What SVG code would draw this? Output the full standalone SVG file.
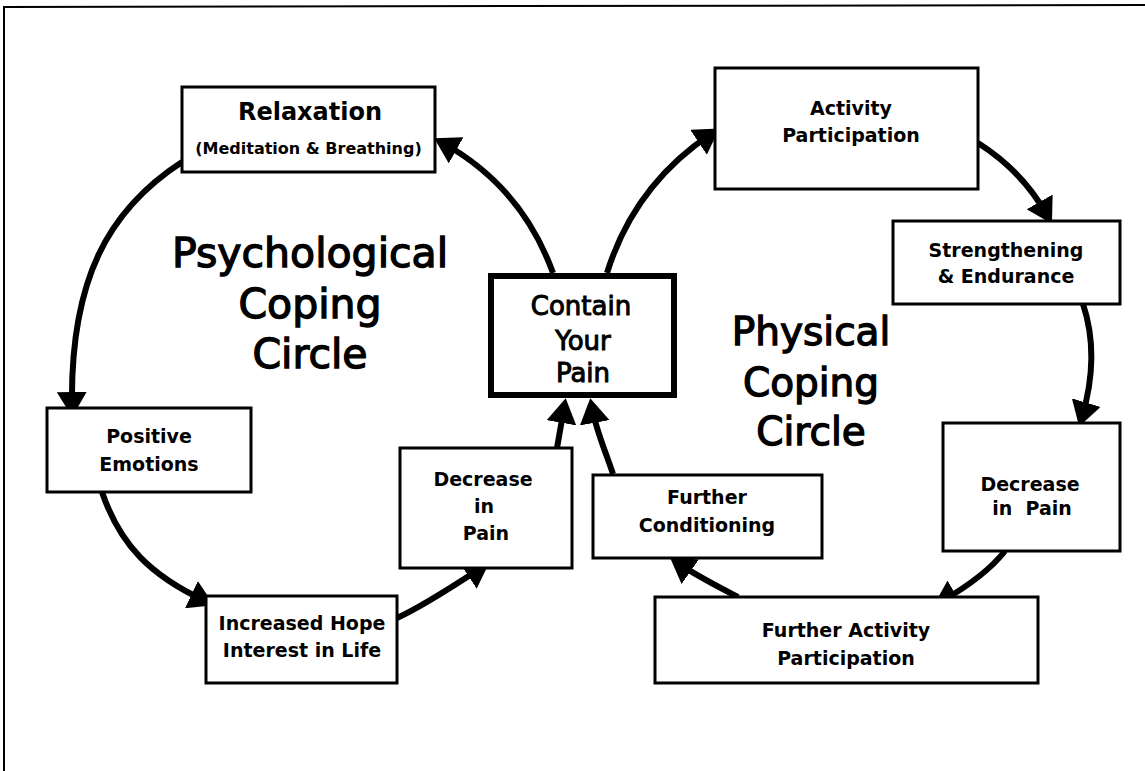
<svg xmlns="http://www.w3.org/2000/svg" width="1145" height="771" viewBox="0 0 1145 771">
<style>
.box{fill:#fff;stroke:#000;stroke-width:3}
.main{fill:#fff;stroke:#000;stroke-width:6}
.lbl{font-family:"DejaVu Sans",sans-serif;font-weight:bold;font-size:19px;text-anchor:middle;fill:#000}
.big{font-family:"DejaVu Sans",sans-serif;font-size:26px;text-anchor:middle;fill:#000;stroke:#000;stroke-width:1}
.title{font-family:"DejaVu Sans",sans-serif;font-size:41px;text-anchor:middle;fill:#000;stroke:#000;stroke-width:1.3}
.conn path{fill:none;stroke:#000;stroke-width:6;marker-end:url(#ah)}
</style>
<defs>
<marker id="ah" viewBox="0 0 25 30" markerWidth="25" markerHeight="30" refX="15" refY="15" orient="auto" markerUnits="userSpaceOnUse">
<path d="M0,0 L25,15 L0,30 z" fill="#000"/>
</marker>
</defs>
<rect width="1145" height="771" fill="#fff"/>
<path d="M4,771 L4,7 L1145,5" fill="none" stroke="#000" stroke-width="2"/>

<g id="titles">
<text class="title" x="310" y="267">Psychological</text>
<text class="title" x="310" y="318">Coping</text>
<text class="title" x="310" y="368">Circle</text>
<text class="title" x="811" y="345" style="font-size:39px">Physical</text>
<text class="title" x="811" y="396" style="font-size:39px">Coping</text>
<text class="title" x="811" y="445" style="font-size:39px">Circle</text>
</g>

<g class="conn" id="connectors">
<path d="M553,273 C532,215 495,172 443,143"/>
<path d="M182,162 C108,210 70,280 72,407"/>
<path d="M102,492 C120,545 150,575 205,601"/>
<path d="M397,618 C425,605 455,585 481,568"/>
<path d="M557,448 L564,408"/>
<path d="M613,474 C605,450 596,430 592,408"/>
<path d="M607,273 C625,215 660,168 711,134"/>
<path d="M978,143 C1005,160 1030,185 1047,215"/>
<path d="M1083,304 C1095,340 1093,380 1082,417"/>
<path d="M1005,551 C990,570 970,585 942,601"/>
<path d="M738,597 C715,585 695,575 678,563"/>
</g>

<g id="relaxation">
<rect class="box" x="182" y="87" width="253" height="85"/>
<text class="lbl" x="310" y="120" style="font-size:24px">Relaxation</text>
<text class="lbl" x="308.5" y="154" style="font-size:16px">(Meditation &amp; Breathing)</text>
</g>

<g id="activity">
<rect class="box" x="715" y="68" width="263" height="121"/>
<text class="lbl" x="851" y="115">Activity</text>
<text class="lbl" x="851" y="142">Participation</text>
</g>

<g id="strengthening">
<rect class="box" x="893" y="221" width="227" height="83"/>
<text class="lbl" x="1006" y="257">Strengthening</text>
<text class="lbl" x="1006" y="283">&amp; Endurance</text>
</g>

<g id="contain">
<rect class="main" x="491" y="276" width="183" height="119"/>
<text class="big" x="581" y="315">Contain</text>
<text class="big" x="583" y="350">Your</text>
<text class="big" x="583" y="382">Pain</text>
</g>

<g id="positive">
<rect class="box" x="47" y="408" width="204" height="84"/>
<text class="lbl" x="149" y="443">Positive</text>
<text class="lbl" x="149" y="471">Emotions</text>
</g>

<g id="decrease-left">
<rect class="box" x="400" y="448" width="172" height="120"/>
<text class="lbl" x="483" y="486">Decrease</text>
<text class="lbl" x="484" y="513">in</text>
<text class="lbl" x="486" y="540">Pain</text>
</g>

<g id="further-conditioning">
<rect class="box" x="593" y="475" width="229" height="83"/>
<text class="lbl" x="707" y="504">Further</text>
<text class="lbl" x="707" y="532">Conditioning</text>
</g>

<g id="decrease-right">
<rect class="box" x="943" y="423" width="177" height="128"/>
<text class="lbl" x="1030" y="491">Decrease</text>
<text class="lbl" x="1032" y="515" xml:space="preserve">in  Pain</text>
</g>

<g id="hope">
<rect class="box" x="206" y="596" width="191" height="87"/>
<text class="lbl" x="302" y="630">Increased Hope</text>
<text class="lbl" x="302" y="657">Interest in Life</text>
</g>

<g id="further-activity">
<rect class="box" x="655" y="597" width="383" height="86"/>
<text class="lbl" x="846" y="637">Further Activity</text>
<text class="lbl" x="846" y="665">Participation</text>
</g>
</svg>
